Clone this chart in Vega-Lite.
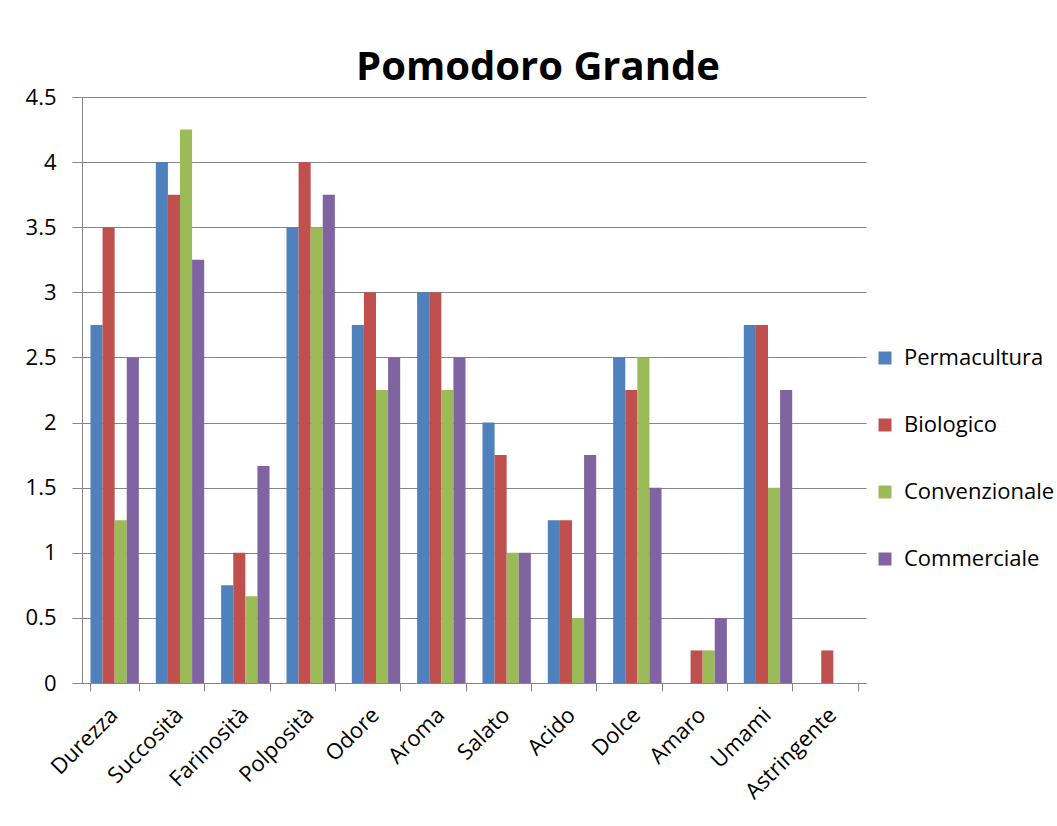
{
  "$schema": "https://vega.github.io/schema/vega-lite/v6.json",
  "autosize": "none",
  "width": 784,
  "height": 586,
  "padding": {"left": 82, "top": 97, "right": 191, "bottom": 143},
  "background": "white",
  "title": {
    "text": "Pomodoro Grande",
    "font": "Open Sans",
    "fontSize": 40,
    "fontWeight": "bold",
    "color": "black",
    "anchor": "middle",
    "baseline": "alphabetic",
    "offset": -34,
    "dx": 64
  },
  "data": {
    "values": [
      {"attr": "Durezza", "series": "Permacultura", "value": 2.75},
      {"attr": "Durezza", "series": "Biologico", "value": 3.5},
      {"attr": "Durezza", "series": "Convenzionale", "value": 1.25},
      {"attr": "Durezza", "series": "Commerciale", "value": 2.5},
      {"attr": "Succosità", "series": "Permacultura", "value": 4},
      {"attr": "Succosità", "series": "Biologico", "value": 3.75},
      {"attr": "Succosità", "series": "Convenzionale", "value": 4.25},
      {"attr": "Succosità", "series": "Commerciale", "value": 3.25},
      {"attr": "Farinosità", "series": "Permacultura", "value": 0.75},
      {"attr": "Farinosità", "series": "Biologico", "value": 1},
      {"attr": "Farinosità", "series": "Convenzionale", "value": 0.667},
      {"attr": "Farinosità", "series": "Commerciale", "value": 1.667},
      {"attr": "Polposità", "series": "Permacultura", "value": 3.5},
      {"attr": "Polposità", "series": "Biologico", "value": 4},
      {"attr": "Polposità", "series": "Convenzionale", "value": 3.5},
      {"attr": "Polposità", "series": "Commerciale", "value": 3.75},
      {"attr": "Odore", "series": "Permacultura", "value": 2.75},
      {"attr": "Odore", "series": "Biologico", "value": 3},
      {"attr": "Odore", "series": "Convenzionale", "value": 2.25},
      {"attr": "Odore", "series": "Commerciale", "value": 2.5},
      {"attr": "Aroma", "series": "Permacultura", "value": 3},
      {"attr": "Aroma", "series": "Biologico", "value": 3},
      {"attr": "Aroma", "series": "Convenzionale", "value": 2.25},
      {"attr": "Aroma", "series": "Commerciale", "value": 2.5},
      {"attr": "Salato", "series": "Permacultura", "value": 2},
      {"attr": "Salato", "series": "Biologico", "value": 1.75},
      {"attr": "Salato", "series": "Convenzionale", "value": 1},
      {"attr": "Salato", "series": "Commerciale", "value": 1},
      {"attr": "Acido", "series": "Permacultura", "value": 1.25},
      {"attr": "Acido", "series": "Biologico", "value": 1.25},
      {"attr": "Acido", "series": "Convenzionale", "value": 0.5},
      {"attr": "Acido", "series": "Commerciale", "value": 1.75},
      {"attr": "Dolce", "series": "Permacultura", "value": 2.5},
      {"attr": "Dolce", "series": "Biologico", "value": 2.25},
      {"attr": "Dolce", "series": "Convenzionale", "value": 2.5},
      {"attr": "Dolce", "series": "Commerciale", "value": 1.5},
      {"attr": "Amaro", "series": "Permacultura", "value": 0},
      {"attr": "Amaro", "series": "Biologico", "value": 0.25},
      {"attr": "Amaro", "series": "Convenzionale", "value": 0.25},
      {"attr": "Amaro", "series": "Commerciale", "value": 0.5},
      {"attr": "Umami", "series": "Permacultura", "value": 2.75},
      {"attr": "Umami", "series": "Biologico", "value": 2.75},
      {"attr": "Umami", "series": "Convenzionale", "value": 1.5},
      {"attr": "Umami", "series": "Commerciale", "value": 2.25},
      {"attr": "Astringente", "series": "Permacultura", "value": 0},
      {"attr": "Astringente", "series": "Biologico", "value": 0.25},
      {"attr": "Astringente", "series": "Convenzionale", "value": 0},
      {"attr": "Astringente", "series": "Commerciale", "value": 0}
    ]
  },
  "mark": {"type": "bar"},
  "encoding": {
    "x": {
      "field": "attr",
      "type": "nominal",
      "sort": null,
      "scale": {"paddingInner": 0.26, "paddingOuter": 0.13},
      "axis": {
        "title": null,
        "labelAngle": -45,
        "labelFont": "Open Sans",
        "labelFontSize": 22,
        "labelColor": "black",
        "labelPadding": 13,
        "labelOffset": -8,
        "tickBand": "extent",
        "tickSize": 8,
        "tickColor": "#868686",
        "domainColor": "#868686",
        "grid": false
      }
    },
    "xOffset": {
      "field": "series",
      "type": "nominal",
      "sort": ["Permacultura", "Biologico", "Convenzionale", "Commerciale"],
      "scale": {"paddingInner": 0, "paddingOuter": 0}
    },
    "y": {
      "field": "value",
      "type": "quantitative",
      "scale": {"domain": [0, 4.5], "nice": false},
      "axis": {
        "title": null,
        "values": [0, 0.5, 1, 1.5, 2, 2.5, 3, 3.5, 4, 4.5],
        "format": "~g",
        "labelFont": "Open Sans",
        "labelFontSize": 22,
        "labelColor": "black",
        "labelPadding": 16,
        "tickSize": 10,
        "tickColor": "#868686",
        "domainColor": "#868686",
        "gridColor": "#868686",
        "gridOpacity": 1
      }
    },
    "color": {
      "field": "series",
      "type": "nominal",
      "sort": ["Permacultura", "Biologico", "Convenzionale", "Commerciale"],
      "scale": {
        "domain": ["Permacultura", "Biologico", "Convenzionale", "Commerciale"],
        "range": ["#4F81BD", "#C0504D", "#9BBB59", "#8064A2"]
      },
      "legend": {
        "title": null,
        "orient": "none",
        "legendX": 792,
        "legendY": 250,
        "symbolType": "square",
        "symbolSize": 169,
        "symbolStrokeWidth": 0,
        "labelFont": "Open Sans",
        "labelFontSize": 22,
        "labelColor": "black",
        "labelOffset": 8,
        "rowPadding": 45
      }
    }
  },
  "config": {
    "view": {"stroke": null},
    "axis": {"labelFlush": false}
  }
}
